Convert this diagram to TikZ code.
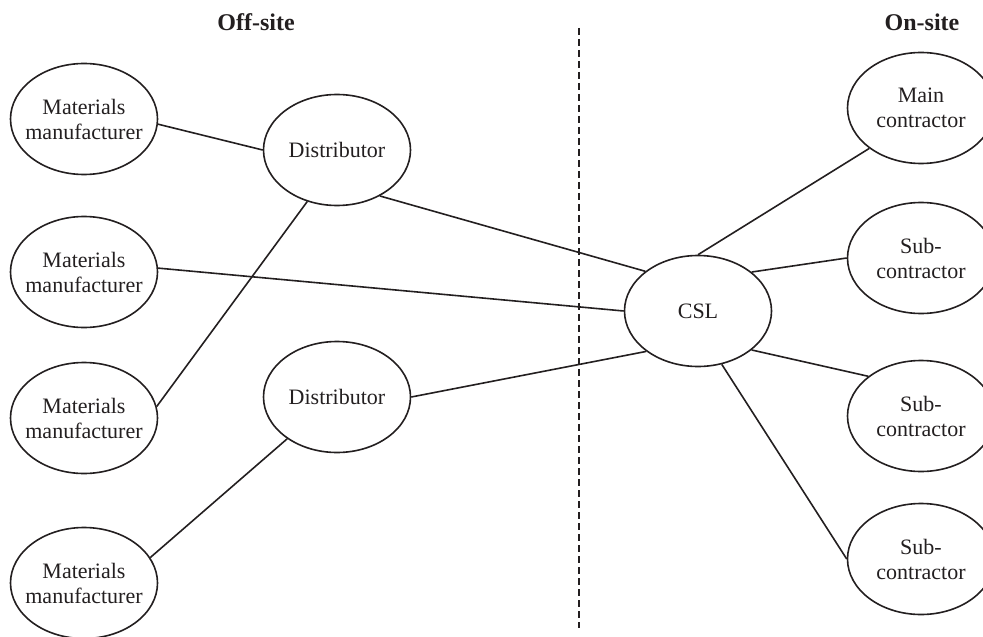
\documentclass[tikz,border=0pt]{standalone}
\usepackage{fontspec}
\setmainfont{Liberation Serif}
\usetikzlibrary{shapes.geometric}
\definecolor{drawColor}{RGB}{35,31,32}
\tikzset{
  party/.style={draw=drawColor,line width=0.8pt,ellipse,minimum width=73.5pt,minimum height=55.5pt,
    inner xsep=-4pt,inner ysep=0pt,align=center,text=drawColor,
    font=\fontsize{11}{12.5}\selectfont},
  link/.style={draw=drawColor,line width=0.8pt},
  side/.style={text=drawColor,inner sep=0pt,font=\fontsize{12}{14}\selectfont\bfseries}
}
\begin{document}
\begin{tikzpicture}[x=0.5pt,y=-0.5pt]
\path[use as bounding box] (0,0) rectangle (983,636);
\clip (0,0) rectangle (983,636);

\node[side] (offsite) at (256,22) {Off-site};
\node[side] (onsite) at (922,22) {On-site};
\draw[drawColor,line width=0.8pt,dash pattern=on 3.5pt off 2pt] (579,28) -- (579,628);

\node[party] (mm1) at (84,119) {Materials\\manufacturer};
\node[party] (mm2) at (84,272) {Materials\\manufacturer};
\node[party] (mm3) at (84,418) {Materials\\manufacturer};
\node[party] (mm4) at (84,583) {Materials\\manufacturer};

\node[party] (dist1) at (337,150) {Distributor};
\node[party] (dist2) at (337,397) {Distributor};

\node[party] (csl) at (698,311) {CSL};

\node[party] (main) at (921,108) {Main\\contractor};
\node[party] (sub1) at (921,258) {Sub-\\contractor};
\node[party] (sub2) at (921,416) {Sub-\\contractor};
\node[party] (sub3) at (921,559) {Sub-\\contractor};

\path[link] (mm1.-4) -- (dist1.west);
\path[link] (mm3.9) -- (dist1.-120);
\path[link] (mm4.21) -- (dist2.220);
\path[link] (mm2.3) -- (csl.west);
\path[link] (dist1.-47) -- (csl.143);
\path[link] (dist2.east) -- (csl.218);
\path[link] (csl.north) -- (main.218);
\path[link] (csl.36) -- (sub1.west);
\path[link] (csl.-36) -- (sub2.143);
\path[link] (csl.-66) -- (sub3.west);
\end{tikzpicture}
\end{document}
